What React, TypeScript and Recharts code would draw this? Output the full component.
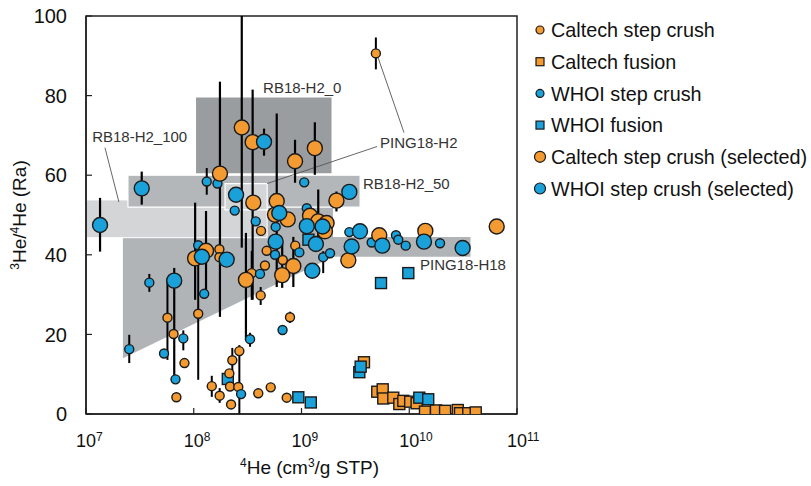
import {
  ComposedChart,
  Scatter,
  Area,
  XAxis,
  YAxis,
  ErrorBar,
  ReferenceArea,
  ReferenceLine,
  ReferenceDot,
  Legend,
  Label,
} from 'recharts'

const FONT = '"Liberation Sans", Arial, Helvetica, sans-serif'
const ORANGE = '#F39A31'
const BLUE = '#1BA1DA'
const EDGE = '#1a1a1a'

// [4He (cm3/g STP), 3He/4He (Ra), error below, error above]
type Pt = [number, number, number?, number?]

const caltechCrush: Pt[] = [
  [4.9e9, 90.6, 4, 4],
  [5.7e7, 24.2, 10.6, 10],
  [6.5e7, 20.1],
  [8.2e7, 12.8],
  [6.9e7, 4.2],
  [1.1e8, 25.2, 16.6, 16.8],
  [1.47e8, 7.0, 2.7, 2.6],
  [1.73e8, 41.4],
  [1.73e8, 39.4],
  [1.74e8, 4.6, 1.8, 1.9],
  [2.14e8, 10.2],
  [2.17e8, 6.9],
  [2.22e8, 2.4],
  [2.28e8, 13.5, 4.4, 3.1],
  [2.59e8, 6.8],
  [2.65e8, 15.8, 15.8, 1.5],
  [3.45e8, 35.4, 6.7, 5.6],
  [3.97e8, 5.2],
  [4.18e8, 29.8, 2.4, 2.1],
  [4.21e8, 46.0],
  [4.58e8, 37.3],
  [4.75e8, 41.0],
  [5.18e8, 6.7],
  [6.7e8, 38.7],
  [7.29e8, 4.1],
  [7.82e8, 24.3, 1.4, 1.4],
  [8.75e8, 42.3],
]

const caltechFusion: Pt[] = [
  [3.8e9, 13.0], [5.05e9, 5.6], [5.67e9, 6.2], [5.74e9, 3.9], [7.11e9, 4.1],
  [8.09e9, 2.5], [8.81e9, 3.3], [1.02e10, 3.1], [1.17e10, 2.7], [1.4e10, 0.6],
  [1.77e10, 0.9], [2.15e10, 0.8], [2.82e10, 1.0], [2.96e10, 0.2], [3.53e10, 0.2],
  [4.14e10, 0.4],
]

const whoiCrush: Pt[] = [
  [1.32e8, 58.4, 3.3, 3.4],
  [1.66e8, 57.9],
  [2.4e8, 51.1],
  [3.87e7, 33.0, 2.3, 2.2],
  [2.52e7, 16.3, 3.5, 3.6],
  [8.0e7, 19.0, 3, 2],
  [5.3e7, 15.2],
  [6.77e7, 8.7],
  [1.1e8, 42.4],
  [1.25e8, 30.2],
  [3.76e8, 48.4],
  [5.76e8, 47.0],
  [5.68e8, 40.0],
  [4.12e8, 35.2],
  [6.67e8, 21.1],
  [3.33e8, 18.8, 1.9, 1.6],
  [2.75e8, 5.0],
  [1.06e9, 58.2],
  [1.12e9, 51.7],
  [9.55e8, 40.6],
  [1.59e9, 39.4, 4, 1.5],
  [1.84e9, 40.4],
  [2.78e9, 45.7],
  [4.48e9, 43.1],
  [7.53e9, 44.9],
  [7.91e9, 43.8],
  [9.27e9, 42.3],
  [1.93e10, 42.9],
]

const whoiFusion: Pt[] = [
  [2.07e8, 8.8], [9.34e8, 4.2], [1.22e9, 2.9], [1.16e9, 43.8], [3.44e9, 10.5],
  [3.54e9, 11.9], [5.47e9, 32.9], [9.8e9, 35.4], [1.24e10, 4.1], [1.5e10, 3.7],
]

const caltechSelected: Pt[] = [
  [2.79e8, 72.0, 30.2, 28],
  [3.52e8, 68.3, 39.6, 13.2],
  [1.75e8, 60.4, 36, 23.1],
  [5.89e8, 53.5, 21.6, 22],
  [8.71e8, 63.5, 5.4, 5.4],
  [1.33e9, 66.8, 6.7, 6.5],
  [2.11e9, 53.6, 2.7, 2.3],
  [3.57e8, 53.1],
  [7.45e8, 48.9],
  [8.4e8, 37.2, 5.3, 7.3],
  [6.62e8, 34.9, 3.2, 7.9],
  [3.05e8, 33.7, 15.1, 11.8],
  [1.03e8, 39.1, 10.4, 14],
  [1.3e8, 41.0, 10, 10],
  [1.2e9, 49.8],
  [1.43e9, 48.4, 4.6, 8],
  [1.71e9, 48.0],
  [1.65e9, 45.9],
  [2.72e9, 38.6],
  [5.27e9, 44.9],
  [1.41e10, 46.0],
  [6.48e10, 47.1],
  [5.68e8, 50.1],
]

const whoiSelected: Pt[] = [
  [1.35e7, 47.5, 6.7, 6.8],
  [3.29e7, 56.7, 4.1, 4.2],
  [6.59e7, 33.5, 25.7, 3.2],
  [1.19e8, 39.5],
  [2.02e8, 38.8],
  [2.47e8, 55.1],
  [4.49e8, 68.4, 3.5, 3.3],
  [6.22e8, 50.5],
  [5.76e8, 43.3],
  [1.12e9, 47.2],
  [1.57e9, 47.1],
  [1.36e9, 42.7],
  [1.26e9, 36.0],
  [2.78e9, 55.8],
  [2.92e9, 42.1],
  [3.49e9, 45.9],
  [5.62e9, 42.3],
  [1.37e10, 43.3],
  [3.13e10, 41.7],
]

// sample fields drawn as shaded regions
const rb18H2_0 = { x: [1.05e8, 1.9e9], y: [60.5, 79.5] }
const rb18H2_50 = { x: [2.45e7, 3.5e9], y: [52, 60] }
const rb18H2_100 = { x: [1e7, 4.8e8], y: [44.3, 53.8] }
const ping18H2 = { x: [1.95e8, 4.8e8], y: [51.3, 57.9] }
const ping18H18 = [
  { x: 2.2e7, band: [14, 52] },
  { x: 1.96e9, band: [39.5, 52] },
  { x: 1.96e9, band: [39.5, 44.5] },
  { x: 3.7e10, band: [39.5, 44.5] },
]

const fieldLabels = [
  { text: 'RB18-H2_0', x: 4.4e8, y: 82 },
  { text: 'PING18-H2', x: 5.35e9, y: 68.2 },
  { text: 'RB18-H2_50', x: 3.72e9, y: 57.9 },
  { text: 'RB18-H2_100', x: 1.14e7, y: 69.7 },
  { text: 'PING18-H18', x: 1.26e10, y: 37.5 },
]

const leaders: [number, number][][] = [
  [[5.13e9, 89.6], [8.94e9, 70.7]],
  [[5.02e9, 67.2], [4.8e8, 57.9]],
  [[1.5e7, 66.9], [2.02e7, 53.3]],
]

const xTicks = [1e7, 1e8, 1e9, 1e10, 1e11]
const yTicks = [0, 20, 40, 60, 80, 100]

const toRows = (pts: Pt[]) =>
  pts.map(([x, y, lo, hi]) => ({ x, y, err: lo != null ? [lo, hi] : undefined }))

const dot = (r: number, fill: string) => (p: any) =>
  <circle cx={p.cx} cy={p.cy} r={r} fill={fill} stroke={EDGE} strokeWidth={1.4} />

const square = (fill: string) => (p: any) =>
  <rect x={p.cx - 5.5} y={p.cy - 5.5} width={11} height={11} fill={fill} stroke={EDGE} strokeWidth={1.4} />

const legendItems = [
  { label: 'Caltech step crush', color: ORANGE, kind: 'small' },
  { label: 'Caltech fusion', color: ORANGE, kind: 'square' },
  { label: 'WHOI step crush', color: BLUE, kind: 'small' },
  { label: 'WHOI fusion', color: BLUE, kind: 'square' },
  { label: 'Caltech step crush (selected)', color: ORANGE, kind: 'large' },
  { label: 'WHOI step crush (selected)', color: BLUE, kind: 'large' },
]

function LegendBox() {
  return (
    <svg width={281} height={192} style={{ display: 'block', overflow: 'visible' }}>
      {legendItems.map((it, i) => {
        const cy = 16 + i * 31.7
        return (
          <g key={it.label}>
            {it.kind === 'square' ? (
              <rect x={6} y={cy - 4} width={8} height={8} fill={it.color} stroke={EDGE} strokeWidth={1.2} />
            ) : (
              <circle cx={10} cy={cy} r={it.kind === 'small' ? 4 : 5.5} fill={it.color} stroke={EDGE} strokeWidth={1.2} />
            )}
            <text x={21} y={cy} dy="0.36em" fontSize={19.8} fill="#111" fontFamily={FONT}>
              {it.label}
            </text>
          </g>
        )
      })}
    </svg>
  )
}

function LogTick({ x, y, payload }: any) {
  const exp = Math.round(Math.log10(payload.value))
  return (
    <g>
      <text x={x} y={y} dy="0.71em" textAnchor="middle" fontSize={18} fill="#111">10</text>
      <text x={x + 10} y={y} dy={7} fontSize={12} fill="#111">{exp}</text>
    </g>
  )
}

const XTitle = ({ viewBox }: any) => {
  const cx = viewBox.x + viewBox.width / 2 + 8
  return (
    <text x={cx} y={474} textAnchor="middle" fontSize={19} fill="#111">
      <tspan fontSize={12} dy={-7}>4</tspan>
      <tspan dy={7}>He (cm</tspan>
      <tspan fontSize={12} dy={-7}>3</tspan>
      <tspan dy={7}>/g STP)</tspan>
    </text>
  )
}

const YTitle = ({ viewBox }: any) => {
  const cy = viewBox.y + viewBox.height / 2
  return (
    <text x={26} y={cy} transform={`rotate(-90, 26, ${cy})`} textAnchor="middle" fontSize={19} fill="#111">
      <tspan fontSize={12} dy={-7}>3</tspan>
      <tspan dy={7}>He/</tspan>
      <tspan fontSize={12} dy={-7}>4</tspan>
      <tspan dy={7}>He (Ra)</tspan>
    </text>
  )
}

const shade = (r: { x: number[]; y: number[] }) => ({ x1: r.x[0], x2: r.x[1], y1: r.y[0], y2: r.y[1] })

export default function App() {
  return (
    <div style={{ position: 'absolute', left: 0, top: 0, fontFamily: FONT, background: '#fff' }}>
      <ComposedChart width={811} height={486} margin={{ top: 16, right: 294, bottom: 0, left: 0 }}>
        <XAxis
          type="number"
          dataKey="x"
          scale="log"
          domain={[1e7, 1e11]}
          ticks={xTicks}
          allowDataOverflow
          height={72}
          tickSize={-6}
          tickMargin={26}
          tick={<LogTick />}
          axisLine={{ stroke: '#222', strokeWidth: 1.5 }}
          tickLine={{ stroke: '#222', strokeWidth: 1.2 }}
        >
          <Label content={XTitle} />
        </XAxis>
        <YAxis
          type="number"
          dataKey="y"
          domain={[0, 100]}
          ticks={yTicks}
          allowDataOverflow
          width={86}
          tickSize={-6}
          tickMargin={25}
          tick={{ fontSize: 20, fill: '#111' }}
          axisLine={{ stroke: '#222', strokeWidth: 1.5 }}
          tickLine={{ stroke: '#222', strokeWidth: 1.2 }}
        >
          <Label content={YTitle} />
        </YAxis>

        <Area
          data={ping18H18}
          dataKey="band"
          type="linear"
          fill="#b1b4b7"
          fillOpacity={1}
          stroke="none"
          isAnimationActive={false}
        />
        <ReferenceArea {...shade(rb18H2_100)} fill="#d3d5d7" fillOpacity={1} stroke="#fff" strokeWidth={1} />
        <ReferenceArea {...shade(rb18H2_0)} fill="#9a9da0" fillOpacity={1} stroke="none" />
        <ReferenceArea {...shade(rb18H2_50)} fill="#b4b7ba" fillOpacity={1} stroke="#fff" strokeWidth={1.2} />
        <ReferenceArea {...shade(ping18H2)} fill="#d3d5d7" fillOpacity={1} stroke="#fff" strokeWidth={1.2} />

        {leaders.map((seg, i) => (
          <ReferenceLine
            key={i}
            segment={seg.map(([x, y]) => ({ x, y }))}
            stroke="#555"
            strokeWidth={0.9}
          />
        ))}
        {fieldLabels.map((l) => (
          <ReferenceDot
            key={l.text}
            x={l.x}
            y={l.y}
            r={0}
            shape={(p: any) => (
              <text x={p.cx} y={p.cy} dy="0.35em" fontSize={15} fill="#333" fontFamily={FONT}>
                {l.text}
              </text>
            )}
          />
        ))}

        <Scatter name="Caltech fusion" data={toRows(caltechFusion)} shape={square(ORANGE)} isAnimationActive={false} />
        <Scatter name="WHOI fusion" data={toRows(whoiFusion)} shape={square(BLUE)} isAnimationActive={false} />
        <Scatter name="Caltech step crush" data={toRows(caltechCrush)} shape={dot(4.5, ORANGE)} isAnimationActive={false}>
          <ErrorBar dataKey="err" direction="y" width={0} stroke="#000" strokeWidth={2} />
        </Scatter>
        <Scatter name="WHOI step crush" data={toRows(whoiCrush)} shape={dot(4.5, BLUE)} isAnimationActive={false}>
          <ErrorBar dataKey="err" direction="y" width={0} stroke="#000" strokeWidth={2} />
        </Scatter>
        <Scatter name="Caltech step crush (selected)" data={toRows(caltechSelected)} shape={dot(7.5, ORANGE)} isAnimationActive={false}>
          <ErrorBar dataKey="err" direction="y" width={0} stroke="#000" strokeWidth={2.2} />
        </Scatter>
        <Scatter name="WHOI step crush (selected)" data={toRows(whoiSelected)} shape={dot(7.5, BLUE)} isAnimationActive={false}>
          <ErrorBar dataKey="err" direction="y" width={0} stroke="#000" strokeWidth={2.2} />
        </Scatter>

        <ReferenceArea x1={1e7} x2={1e11} y1={0} y2={100} fill="none" stroke="#222" strokeWidth={1.5} />

        <Legend
          layout="vertical"
          align="center"
          verticalAlign="middle"
          wrapperStyle={{ left: 530, top: 14, width: 281 }}
          content={LegendBox}
        />
      </ComposedChart>
    </div>
  )
}
